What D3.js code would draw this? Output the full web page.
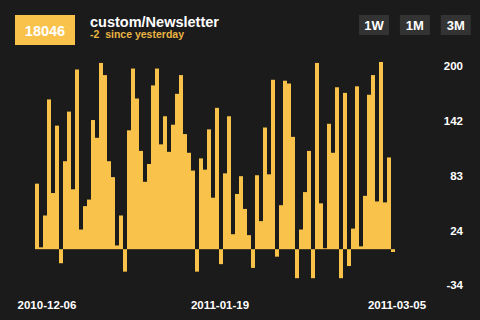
<!DOCTYPE html>
<html><head><meta charset="utf-8">
<script src="https://cdn.jsdelivr.net/npm/d3@7"></script>
<style>
html,body{margin:0;padding:0;background:#1b1b1b;}
svg{display:block;}
text{font-family:"Liberation Sans",Arial,Helvetica,sans-serif;font-weight:bold;}
</style></head>
<body><svg id="c" width="480" height="320"></svg>
<script>
const startDate = "2010-12-06";
const values = [70,2,36,160,60,132,-15,94,147,64,192,21,46,53,138,
  119,199,186,94,77,4,36,-24,127,193,161,105,72,91,175,
  193,112,142,104,133,166,186,123,103,84,-24,97,85,128,55,
  151,-16,81,142,16,59,78,43,15,-20,79,30,130,80,181,
  -8,47,180,177,120,-31,21,61,105,-31,199,49,1,134,103,
  173,-31,167,-18,22,174,3,57,165,186,51,200,50,98,-3];
const dateLabels = ["2010-12-06","2011-01-19","2011-03-05"];
const yTickLabels = [200,142,83,24,-34];
const buttons = ["1W","1M","3M"];
const total = "18046";
const title = "custom/Newsletter";
const subtitle = "-2  since yesterday";

const yellow = "#f8c24b";
const svg = d3.select("#c");
const parse = d3.timeParse("%Y-%m-%d");
const t0 = parse(startDate);
const dates = values.map((v,i)=>d3.timeDay.offset(t0,i));

const x = d3.scaleBand().domain(d3.range(values.length)).range([35,395]).padding(0);
const y = d3.scaleLinear().domain([-34,200]).range([281,62]);

svg.append("g").selectAll("rect").data(values).join("rect")
  .attr("x",(d,i)=>x(i))
  .attr("width",x.bandwidth())
  .attr("y",d=>y(Math.max(0,d)))
  .attr("height",d=>Math.abs(y(d)-y(0)))
  .attr("fill",yellow);

// y labels
svg.append("g").selectAll("text").data(yTickLabels).join("text")
  .attr("x",463).attr("y",d=>y(d)+8.3)
  .attr("text-anchor","end").attr("fill","#fff").attr("font-size","11.5px")
  .text(d=>d);

// x labels
const xt = d3.scaleTime().domain([t0, dates[dates.length-1]]).range([47,397]);
svg.append("g").selectAll("text").data(dateLabels).join("text")
  .attr("x",d=>xt(parse(d))).attr("y",309)
  .attr("text-anchor","middle").attr("fill","#fff").attr("font-size","11.5px")
  .text(d=>d);

// header
svg.append("rect").attr("x",15).attr("y",15).attr("width",60).attr("height",30).attr("fill",yellow);
svg.append("text").attr("x",45).attr("y",35.5).attr("text-anchor","middle")
  .attr("fill","#fff").attr("font-size","14.5px").text(total);
svg.append("text").attr("x",90).attr("y",26.5).attr("fill","#fff").attr("font-size","14.5px").text(title);
svg.append("text").attr("x",90).attr("y",38).attr("fill","#e9b444").attr("font-size","10.5px")
  .attr("xml:space","preserve").style("white-space","pre").text(subtitle);

const bx = d3.scaleBand().domain(buttons).range([359,473]).paddingInner(8/38);
const bg = svg.append("g").selectAll("g").data(buttons).join("g");
bg.append("rect").attr("x",d=>bx(d)).attr("y",15).attr("width",30).attr("height",20).attr("fill","#333333");
bg.append("text").attr("x",d=>bx(d)+15).attr("y",30).attr("text-anchor","middle")
  .attr("fill","#fff").attr("font-size","13px").text(d=>d);
</script></body></html>
